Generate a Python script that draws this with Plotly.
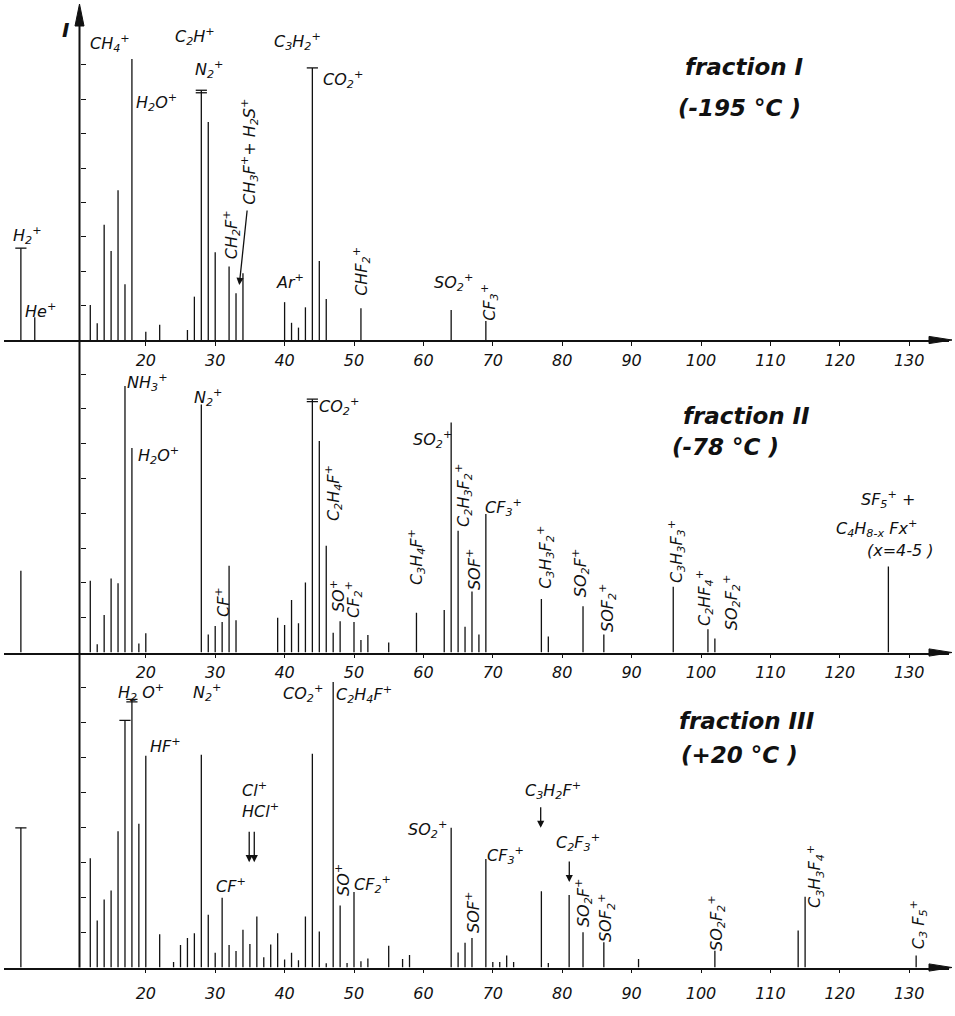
import plotly.graph_objects as go

# ---- peak lists: m/e and relative intensity (one unit = one y tick) ----
# fraction I (-195 °C)
mass_1 = [2, 4, 12, 13, 14, 15, 16, 17, 18, 20, 22, 26, 27, 28, 29, 30, 32, 33, 34,
          40, 41, 42, 43, 44, 45, 46, 51, 64, 69]
int_1 = [2.67, 0.66, 1.02, 0.49, 3.35, 2.59, 4.35, 1.62, 8.17, 0.24, 0.44, 0.29, 1.26,
         7.26, 6.34, 2.55, 2.14, 1.36, 1.94, 1.10, 0.50, 0.36, 0.95, 7.91, 2.30, 1.19,
         0.92, 0.87, 0.55]
caps_1 = {2: 1, 28: 2, 44: 1}

# fraction II (-78 °C)
mass_2 = [2, 12, 13, 14, 15, 16, 17, 18, 19, 20, 28, 29, 30, 31, 32, 33, 39, 40, 41, 42,
          43, 44, 45, 46, 47, 48, 50, 51, 52, 55, 59, 63, 64, 65, 66, 67, 68, 69, 77, 78,
          83, 86, 96, 101, 102, 127]
int_2 = [2.35, 2.06, 0.24, 1.08, 2.13, 1.99, 7.66, 5.88, 0.26, 0.55, 7.13, 0.52, 0.76,
         0.88, 2.49, 0.93, 1.00, 0.79, 1.51, 0.84, 2.01, 7.28, 6.08, 3.07, 0.57, 0.90,
         0.88, 0.36, 0.50, 0.29, 1.14, 1.22, 6.61, 3.50, 0.74, 1.75, 0.52, 3.98, 1.54,
         0.46, 1.33, 0.52, 1.89, 0.67, 0.40, 2.47]
caps_2 = {44: 2}

# fraction III (+20 °C)
mass_3 = [2, 12, 13, 14, 15, 16, 17, 18, 19, 20, 22, 24, 25, 26, 27, 28, 29, 30, 31, 32,
          33, 34, 35, 36, 37, 38, 39, 40, 41, 42, 43, 44, 45, 46, 47, 48, 49, 50, 51, 52,
          55, 57, 58, 64, 65, 66, 67, 69, 70, 71, 72, 73, 77, 78, 81, 83, 86, 91, 102,
          114, 115, 131]
int_3 = [3.99, 3.12, 1.34, 1.94, 2.20, 3.89, 7.06, 7.66, 4.11, 6.05, 0.95, 0.16, 0.64,
         0.84, 0.98, 6.08, 1.51, 0.42, 1.99, 0.64, 0.47, 1.08, 0.67, 1.46, 0.29, 0.66,
         0.98, 0.23, 0.42, 0.21, 1.46, 6.11, 1.03, 0.12, 8.16, 1.77, 0.13, 2.16, 0.18,
         0.26, 0.62, 0.24, 0.36, 3.99, 0.43, 0.71, 0.84, 3.10, 0.16, 0.16, 0.34, 0.16,
         2.18, 0.13, 2.07, 1.01, 0.72, 0.24, 0.48, 1.06, 2.02, 0.34]
caps_3 = {2: 1, 17: 1, 18: 2}

tick_me = [20, 30, 40, 50, 60, 70, 80, 90, 100, 110, 120, 130]
tick_i = [1, 2, 3, 4, 5, 6, 7, 8]

# ---- page geometry ----
W, H = 955, 1016
ML, MR = 4, 6
PX_PER_ME = 6.94
X20 = 145.8
x_lo = 20 - (X20 - ML) / PX_PER_ME
x_hi = 20 + (W - MR - X20) / PX_PER_ME
YAXIS_PX = 79.5

FONT = "DejaVu Sans"
INK = "#111111"


def fx(px):
    return (px - ML) / (W - ML - MR)


def fy(py):
    return 1 - py / H


# panel: (baseline px, top px, px per intensity unit)
panels = [(340.0, 5.0, 34.4), (652.5, 345.0, 34.8), (967.5, 660.0, 35.0)]

fig = go.Figure()


def sticks(masses, ints):
    xs, ys = [], []
    for m, v in zip(masses, ints):
        xs += [m, m, None]
        ys += [0, v, None]
    return xs, ys


def cap_points(masses, ints, caps, panel_unit):
    xs, ys = [], []
    lookup = dict(zip(masses, ints))
    for m, n in caps.items():
        for k in range(n):
            xs.append(m)
            ys.append(lookup[m] - k * 2.5 / panel_unit)
    return xs, ys


data = [(mass_1, int_1, caps_1), (mass_2, int_2, caps_2), (mass_3, int_3, caps_3)]
for k, (ms, vs, cp) in enumerate(data, start=1):
    xr = "x" if k == 1 else f"x{k}"
    yr = "y" if k == 1 else f"y{k}"
    sx, sy = sticks(ms, vs)
    fig.add_trace(go.Scatter(x=sx, y=sy, mode="lines", xaxis=xr, yaxis=yr,
                             line=dict(color=INK, width=1.3), hoverinfo="skip"))
    cx, cy = cap_points(ms, vs, cp, panels[k - 1][2])
    fig.add_trace(go.Scatter(x=cx, y=cy, mode="markers", xaxis=xr, yaxis=yr,
                             marker=dict(symbol="line-ew", size=8,
                                         line=dict(color=INK, width=1.3)),
                             hoverinfo="skip"))

layout = dict(width=W, height=H, margin=dict(l=ML, r=MR, t=0, b=0),
              paper_bgcolor="white", plot_bgcolor="white", showlegend=False)

standoffs = {1: 1, 2: 0, 3: 6}
for k, (base, top, unit) in enumerate(panels, start=1):
    xname = "xaxis" if k == 1 else f"xaxis{k}"
    yname = "yaxis" if k == 1 else f"yaxis{k}"
    yanchor = "y" if k == 1 else f"y{k}"
    layout[xname] = dict(
        domain=[0, 1], anchor=yanchor, range=[x_lo, x_hi], showgrid=False,
        zeroline=False, showline=True, linecolor=INK, linewidth=1.6,
        ticks="outside", ticklen=4, tickwidth=1.3, tickcolor=INK,
        tickvals=tick_me, ticktext=[str(t) for t in tick_me],
        tickfont=dict(family=FONT, size=16, color=INK, style="italic"),
        ticklabelstandoff=standoffs[k],
    )
    layout[yname] = dict(
        domain=[fy(base), fy(top)], range=[0, (base - top) / unit],
        anchor="free", position=fx(YAXIS_PX), showgrid=False, zeroline=False,
        showline=False, ticks="inside", ticklen=5, tickwidth=1.3, tickcolor=INK,
        tickvals=tick_i, showticklabels=False,
    )

shapes = []
# vertical intensity axis with arrow head
shapes.append(dict(type="line", xref="paper", yref="paper",
                   x0=fx(YAXIS_PX), x1=fx(YAXIS_PX), y0=fy(967.5), y1=fy(20),
                   line=dict(color=INK, width=2)))
shapes.append(dict(type="path", xref="paper", yref="paper", fillcolor=INK,
                   line=dict(color=INK, width=1),
                   path=f"M {fx(YAXIS_PX)} {fy(4)} L {fx(YAXIS_PX - 4.5)} {fy(26)} "
                        f"L {fx(YAXIS_PX + 4.5)} {fy(26)} Z"))
# arrow heads on the m/e axes
for base, _, _ in panels:
    shapes.append(dict(type="path", xref="paper", yref="paper", fillcolor=INK,
                       line=dict(color=INK, width=1),
                       path=f"M {fx(952)} {fy(base)} L {fx(929)} {fy(base - 3.6)} "
                            f"L {fx(929)} {fy(base + 3.6)} Z"))
layout["shapes"] = shapes

ann = []


def lab(text, m, i, panel, angle=0, size=16, bold=False):
    ann.append(dict(text=text, x=m, y=i,
                    xref="x" if panel == 1 else f"x{panel}",
                    yref="y" if panel == 1 else f"y{panel}",
                    showarrow=False, textangle=angle,
                    font=dict(family=FONT, size=size, color=INK, style="italic",
                              weight="bold" if bold else "normal")))


def arrow(m, i, panel, dx, dy):
    ann.append(dict(text="", x=m, y=i, ax=dx, ay=dy,
                    xref="x" if panel == 1 else f"x{panel}",
                    yref="y" if panel == 1 else f"y{panel}",
                    showarrow=True, arrowhead=2, arrowsize=1.1, arrowwidth=1.3,
                    arrowcolor=INK))


R = -90
# fraction I
lab("I", 8.5, 9.0, 1, size=20, bold=True)
lab("H<sub>2</sub><sup>+</sup>", 2.9, 3.05, 1)
lab("He<sup>+</sup>", 4.8, 0.87, 1)
lab("CH<sub>4</sub><sup>+</sup>", 14.8, 8.63, 1)
lab("C<sub>2</sub>H<sup>+</sup>", 27.1, 8.81, 1)
lab("N<sub>2</sub><sup>+</sup>", 29.1, 7.85, 1)
lab("H<sub>2</sub>O<sup>+</sup>", 21.6, 6.89, 1)
lab("C<sub>3</sub>H<sub>2</sub><sup>+</sup>", 41.8, 8.69, 1)
lab("CO<sub>2</sub><sup>+</sup>", 48.4, 7.56, 1)
lab("CH<sub>2</sub>F<sup>+</sup>", 32.3, 3.05, 1, angle=R)
lab("CH<sub>3</sub>F<sup>+</sup>+ H<sub>2</sub>S<sup>+</sup>", 35.0, 5.47, 1, angle=R)
arrow(33.47, 1.60, 1, 8, -76)
lab("Ar<sup>+</sup>", 40.8, 1.69, 1)
lab("CHF<sub>2</sub><sup>+</sup>", 51.15, 2.01, 1, angle=R)
lab("SO<sub>2</sub><sup>+</sup>", 64.4, 1.66, 1)
lab("CF<sub>3</sub><sup>+</sup>", 69.6, 1.08, 1, angle=R)
lab("fraction I", 106.2, 7.94, 1, size=23, bold=True)
lab("(-195 °C )", 105.5, 6.74, 1, size=23, bold=True)

# fraction II
lab("NH<sub>3</sub><sup>+</sup>", 20.3, 7.77, 2)
lab("H<sub>2</sub>O<sup>+</sup>", 21.9, 5.65, 2)
lab("N<sub>2</sub><sup>+</sup>", 28.96, 7.34, 2)
lab("CO<sub>2</sub><sup>+</sup>", 47.8, 7.08, 2)
lab("CF<sup>+</sup>", 30.98, 1.45, 2, angle=R)
lab("C<sub>2</sub>H<sub>4</sub>F<sup>+</sup>", 46.97, 4.58, 2, angle=R)
lab("SO<sup>+</sup>", 47.55, 1.62, 2, angle=R)
lab("CF<sub>2</sub><sup>+</sup>", 50.0, 1.51, 2, angle=R)
lab("C<sub>3</sub>H<sub>4</sub>F<sup>+</sup>", 58.93, 2.74, 2, angle=R)
lab("SO<sub>2</sub><sup>+</sup>", 61.24, 6.11, 2)
lab("C<sub>2</sub>H<sub>3</sub>F<sub>2</sub><sup>+</sup>", 65.85, 4.5, 2, angle=R)
lab("SOF<sup>+</sup>", 67.15, 2.37, 2, angle=R)
lab("CF<sub>3</sub><sup>+</sup>", 71.6, 4.18, 2)
lab("C<sub>3</sub>H<sub>3</sub>F<sub>2</sub><sup>+</sup>", 77.67, 2.72, 2, angle=R)
lab("SO<sub>2</sub>F<sup>+</sup>", 82.57, 2.28, 2, angle=R)
lab("SOF<sub>2</sub><sup>+</sup>", 86.6, 1.28, 2, angle=R)
lab("C<sub>3</sub>H<sub>3</sub>F<sub>3</sub><sup>+</sup>", 96.56, 2.89, 2, angle=R)
lab("C<sub>2</sub>HF<sub>4</sub><sup>+</sup>", 100.6, 1.57, 2, angle=R)
lab("SO<sub>2</sub>F<sub>2</sub><sup>+</sup>", 104.35, 1.45, 2, angle=R)
lab("SF<sub>5</sub><sup>+</sup> +", 126.93, 4.41, 2)
lab("C<sub>4</sub>H<sub>8-x</sub> Fx<sup>+</sup>", 125.35, 3.55, 2)
lab("(x=4-5 )", 128.8, 2.92, 2)
lab("fraction II", 106.6, 6.8, 2, size=23, bold=True)
lab("(-78 °C )", 103.6, 5.9, 2, size=23, bold=True)

# fraction III
lab("H<sub>2</sub> O<sup>+</sup>", 19.3, 7.86, 3)
lab("N<sub>2</sub><sup>+</sup>", 28.82, 7.86, 3)
lab("CO<sub>2</sub><sup>+</sup>", 42.65, 7.84, 3)
lab("C<sub>2</sub>H<sub>4</sub>F<sup>+</sup>", 51.5, 7.8, 3)
lab("HF<sup>+</sup>", 22.8, 6.33, 3)
lab("Cl<sup>+</sup>", 35.6, 5.1, 3)
lab("HCl<sup>+</sup>", 36.46, 4.5, 3)
arrow(34.9, 3.01, 3, 0, -32)
arrow(35.63, 3.01, 3, 0, -32)
lab("CF<sup>+</sup>", 32.28, 2.33, 3)
lab("SO<sup>+</sup>", 48.27, 2.5, 3, angle=R)
lab("CF<sub>2</sub><sup>+</sup>", 52.6, 2.36, 3)
lab("SO<sub>2</sub><sup>+</sup>", 60.66, 3.93, 3)
lab("SOF<sup>+</sup>", 67.15, 1.56, 3, angle=R)
lab("CF<sub>3</sub><sup>+</sup>", 71.9, 3.21, 3)
lab("C<sub>3</sub>H<sub>2</sub>F<sup>+</sup>", 78.67, 5.07, 3)
arrow(76.9, 3.99, 3, 0, -22)
lab("C<sub>2</sub>F<sub>3</sub><sup>+</sup>", 82.27, 3.56, 3)
arrow(81.02, 2.44, 3, 0, -22)
lab("SO<sub>2</sub>F<sup>+</sup>", 83.0, 1.84, 3, angle=R)
lab("SOF<sub>2</sub><sup>+</sup>", 86.3, 1.41, 3, angle=R)
lab("SO<sub>2</sub>F<sub>2</sub><sup>+</sup>", 102.15, 1.27, 3, angle=R)
lab("C<sub>3</sub>H<sub>3</sub>F<sub>4</sub><sup>+</sup>", 116.4, 2.61, 3, angle=R)
lab("C<sub>3</sub> F<sub>5</sub><sup>+</sup>", 131.27, 1.21, 3, angle=R)
lab("fraction III", 106.6, 7.04, 3, size=23, bold=True)
lab("(+20 °C )", 105.5, 6.07, 3, size=23, bold=True)
lab("m/e", 131.3, -1.13, 3, size=19, bold=True)

layout["annotations"] = ann
fig.update_layout(**layout)
fig.write_html("out.html")
